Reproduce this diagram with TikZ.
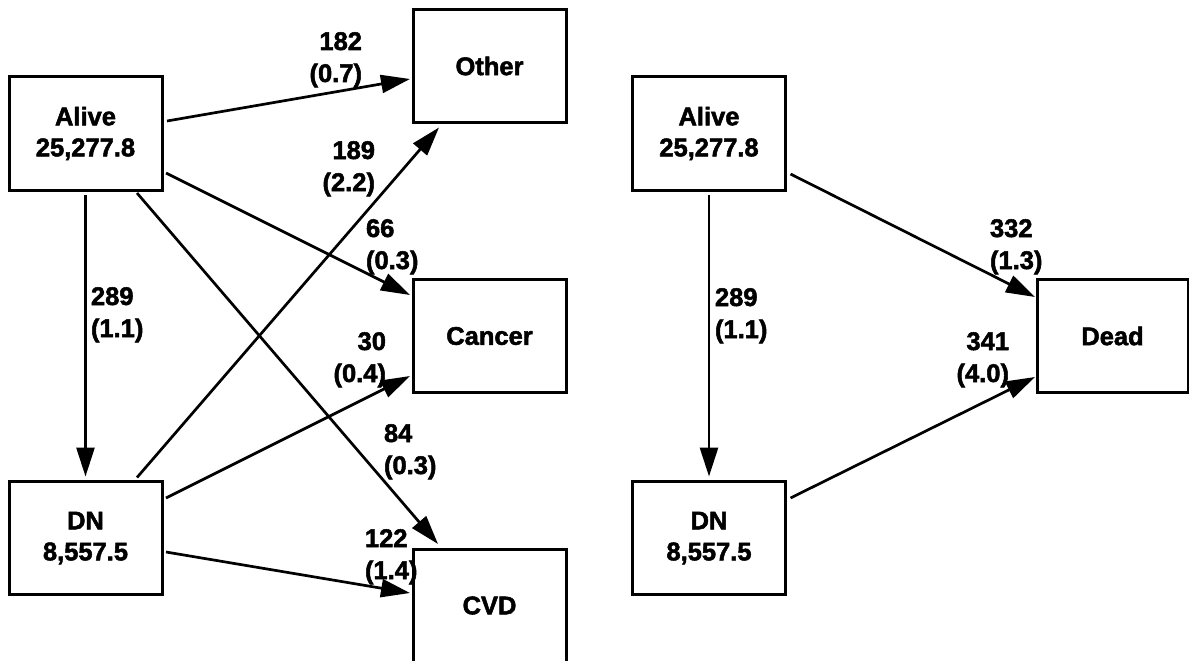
\documentclass[tikz,border=0pt]{standalone}
\usepackage{fontspec}
\setmainfont{Liberation Sans}[BoldFeatures={FakeBold=2}]
\usetikzlibrary{arrows.meta}
\begin{document}
\begin{tikzpicture}[x=1pt,y=-1pt,
  box/.style={draw,line width=3pt,minimum width=153pt,minimum height=113pt,inner sep=0pt,outer sep=0pt,align=center,font=\bfseries\fontsize{25.5}{31}\selectfont},
  flow/.style={line width=2.7pt,-{Triangle[length=29pt,width=18pt]}},
  lab/.style={inner sep=0pt,outer sep=0pt,font=\bfseries\fontsize{25.5}{32}\selectfont}]
\useasboundingbox (0,0) rectangle (1189,661);
\clip (0,0) rectangle (1189,661);
% left diagram boxes
\node[box] (aliveL) at (85.5,133.5) {Alive\\25,277.8};
\node[box] (dnL) at (85.5,538) {DN\\8,557.5};
\node[box] (other) at (489.5,66) {Other};
\node[box] (cancer) at (489.5,336) {Cancer};
\node[box] (cvd) at (489.5,605.5) {CVD};
% right diagram boxes
\node[box] (aliveR) at (709,133.5) {Alive\\25,277.8};
\node[box] (dnR) at (709,538) {DN\\8,557.5};
\node[box,minimum width=151pt] (dead) at (1112.5,336) {Dead};
% left arrows
\draw[flow] ([shift={(5,-12.5)}]aliveL.east) -- ([shift={(-3,13)}]other.west);
\draw[flow] ([shift={(4,39.5)}]aliveL.east) -- ([shift={(-3,-41)}]cancer.west);
\draw[flow] ([shift={(51.5,3)}]aliveL.south) -- ([shift={(-51.5,-5)}]cvd.north);
\draw[flow] ([shift={(0,5)}]aliveL.south) -- ([shift={(0,-5)}]dnL.north);
\draw[flow] ([shift={(51.5,-4)}]dnL.north) -- ([shift={(-50.5,5)}]other.south);
\draw[flow] ([shift={(4,-40)}]dnL.east) -- ([shift={(-3,40)}]cancer.west);
\draw[flow] ([shift={(4,14)}]dnL.east) -- ([shift={(-3,-12.5)}]cvd.west);
% right arrows
\draw[flow] ([shift={(5,40.5)}]aliveR.east) -- ([shift={(-2,-39)}]dead.west);
\draw[flow] ([shift={(0,5)}]aliveR.south) -- ([shift={(0,-5)}]dnR.north);
\draw[flow] ([shift={(5,-40)}]dnR.east) -- ([shift={(-2,41)}]dead.west);
% labels
\node[lab,anchor=base east] (l182) at (362,50) {\begin{tabular}[t]{@{}r@{}}182\\(0.7)\end{tabular}};
\node[lab,anchor=base east] (l189) at (375,159) {\begin{tabular}[t]{@{}r@{}}189\\(2.2)\end{tabular}};
\node[lab,anchor=base west] (l66) at (366,237) {\begin{tabular}[t]{@{}l@{}}66\\(0.3)\end{tabular}};
\node[lab,anchor=base west] (l289L) at (91,305) {\begin{tabular}[t]{@{}l@{}}289\\(1.1)\end{tabular}};
\node[lab,anchor=base east] (l30) at (386,350) {\begin{tabular}[t]{@{}r@{}}30\\(0.4)\end{tabular}};
\node[lab,anchor=base west] (l84) at (384,442) {\begin{tabular}[t]{@{}l@{}}84\\(0.3)\end{tabular}};
\node[lab,anchor=base west] (l122) at (365,547) {\begin{tabular}[t]{@{}l@{}}122\\(1.4)\end{tabular}};
\node[lab,anchor=base west] (l332) at (990,237) {\begin{tabular}[t]{@{}l@{}}332\\(1.3)\end{tabular}};
\node[lab,anchor=base west] (l289R) at (715,306) {\begin{tabular}[t]{@{}l@{}}289\\(1.1)\end{tabular}};
\node[lab,anchor=base east] (l341) at (1009,350) {\begin{tabular}[t]{@{}r@{}}341\\(4.0)\end{tabular}};
\end{tikzpicture}
\end{document}
